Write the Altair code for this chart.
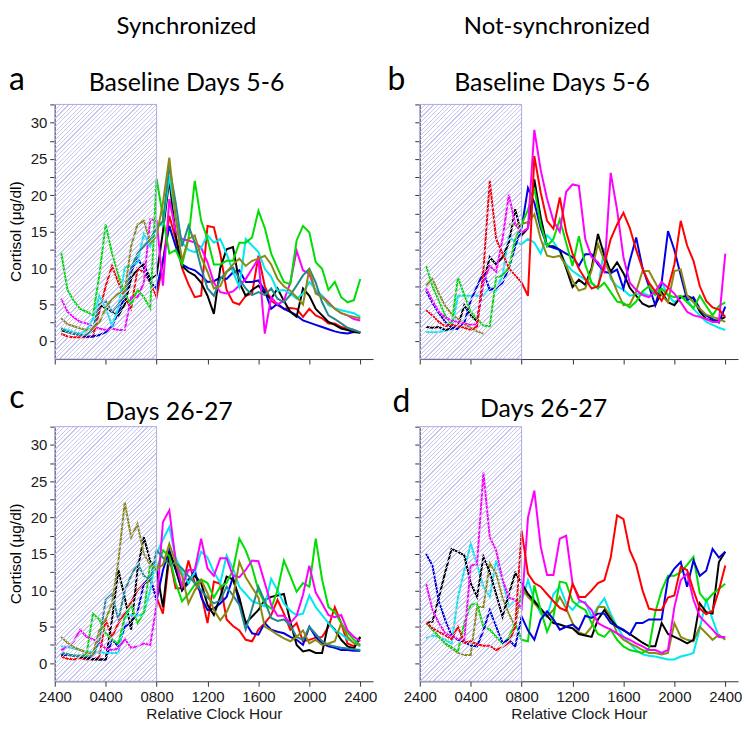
import altair as alt
import pandas as pd

# half-hourly sampling times (relative clock hour, 00:30 ... 24:00)
HOURS = [h / 2 for h in range(1, 49)]

# ---------------- panel a : Synchronized, Baseline Days 5-6 ----------------
A_RED = [1.0, 0.6, 0.5, 0.5, 0.5, 0.6, 4.0, 7.5, 10.3, 8.0, 6.0, 4.4,
         9.9, 9.5, 8.0, 6.0, 10.8, 17.2, 14.0, 10.0, 7.8, 6.0, 6.2, 15.8,
         15.6, 12.0, 7.0, 5.3, 5.0, 6.2, 6.5, 11.7, 7.5, 5.5, 4.9, 4.4,
         4.5, 4.4, 3.3, 4.4, 3.5, 3.1, 2.4, 2.4, 1.9, 1.7, 1.5, 1.1]
A_GREEN = [12.2, 7.0, 5.5, 4.4, 4.0, 3.5, 9.0, 16.0, 12.0, 9.0, 6.5, 5.0,
           7.0, 6.0, 4.5, 22.3, 17.0, 12.0, 12.5, 10.5, 14.0, 22.0, 16.5, 14.0,
           10.5, 10.5, 11.0, 11.0, 13.5, 13.5, 14.2, 17.9, 15.5, 12.0, 10.0, 8.1,
           7.8, 13.8, 15.8, 14.9, 10.8, 9.9, 7.0, 8.1, 6.0, 5.3, 5.6, 8.5]
A_BLUE = [1.5, 1.3, 1.0, 0.8, 0.6, 0.6, 0.8, 1.2, 2.0, 4.0, 6.0, 9.5,
          11.3, 10.0, 8.1, 7.2, 11.0, 15.8, 13.0, 10.5, 10.0, 9.7, 9.0, 8.1,
          8.2, 8.7, 8.5, 9.4, 9.7, 8.1, 8.1, 8.3, 6.9, 4.4, 5.1, 4.4,
          4.0, 3.5, 2.8, 2.5, 2.2, 1.9, 1.6, 1.3, 1.1, 1.0, 1.2, 1.2]
A_BLACK = [1.5, 1.2, 1.0, 0.8, 0.8, 1.5, 4.9, 4.5, 4.0, 3.5, 5.0, 8.5,
           10.0, 10.5, 8.5, 9.0, 15.0, 22.2, 14.5, 10.3, 9.5, 9.0, 8.0, 6.2,
           3.7, 10.0, 12.6, 12.9, 8.0, 6.2, 7.0, 7.6, 6.5, 5.8, 7.2, 5.5,
           4.0, 3.3, 7.2, 6.2, 4.4, 3.5, 2.6, 2.2, 1.7, 1.5, 1.2, 1.1]
A_CYAN = [1.7, 1.5, 1.2, 1.0, 1.5, 3.0, 6.2, 4.5, 2.1, 4.5, 10.1, 10.3,
          10.8, 14.7, 13.0, 15.8, 16.0, 22.7, 17.0, 13.5, 12.5, 12.2, 12.8, 14.5,
          13.5, 14.0, 12.0, 9.5, 7.4, 14.0, 13.1, 12.2, 9.9, 8.8, 6.9, 7.0,
          6.5, 5.8, 6.5, 8.1, 7.0, 6.2, 4.9, 4.5, 4.2, 4.0, 3.8, 3.3]
A_MAGENTA = [5.8, 4.0, 3.2, 2.6, 2.4, 2.0, 1.7, 1.5, 1.7, 1.5, 1.5, 6.0,
             6.0, 8.0, 16.7, 16.5, 7.6, 19.5, 15.0, 14.0, 13.8, 13.5, 12.8, 10.8,
             8.0, 6.7, 6.5, 6.8, 7.6, 8.5, 9.9, 11.3, 1.0, 6.0, 5.0, 5.5,
             8.0, 12.4, 9.7, 9.2, 6.7, 6.2, 5.3, 4.4, 3.8, 3.5, 3.0, 2.8]
A_OLIVE = [3.1, 2.3, 2.0, 1.7, 1.5, 1.7, 2.5, 4.5, 5.8, 6.5, 6.8, 13.0,
           16.0, 16.5, 13.5, 14.4, 19.0, 25.2, 17.0, 11.0, 14.0, 14.5, 11.5, 9.5,
           7.2, 7.5, 9.5, 10.5, 11.3, 10.3, 11.0, 11.3, 11.7, 10.5, 8.5, 7.5,
           6.9, 6.0, 5.0, 9.9, 6.5, 6.0, 5.2, 4.4, 3.8, 3.5, 3.3, 3.1]
A_TEAL = [1.7, 1.2, 1.0, 0.8, 0.8, 1.5, 5.0, 5.5, 4.0, 5.0, 6.2, 10.0,
          12.0, 13.0, 14.0, 15.5, 16.5, 24.0, 19.0, 13.0, 15.8, 13.5, 10.0, 7.2,
          6.2, 8.5, 9.5, 10.1, 8.5, 7.2, 6.3, 6.7, 6.3, 7.2, 5.8, 5.3,
          6.3, 7.6, 9.0, 9.9, 8.0, 5.3, 3.5, 3.0, 2.4, 1.8, 1.5, 1.2]

# ---------------- panel b : Not-synchronized, Baseline Days 5-6 ----------------
B_RED = [4.2, 3.5, 2.6, 2.0, 2.2, 2.0, 1.8, 1.5, 2.0, 9.7, 22.0, 14.0,
         12.0, 10.0, 9.0, 8.0, 6.2, 25.4, 20.4, 16.5, 15.4, 19.7, 15.0, 12.0,
         9.9, 8.5, 7.2, 7.5, 10.5, 14.0, 16.0, 17.6, 15.5, 12.5, 9.9, 8.0,
         6.8, 5.5, 7.2, 10.5, 16.5, 13.1, 11.0, 7.5, 5.5, 4.6, 4.3, 3.3]
B_MAGENTA = [7.2, 5.5, 4.0, 3.2, 2.8, 2.6, 2.4, 2.2, 2.3, 8.1, 10.3, 9.5,
             14.0, 20.1, 16.0, 14.9, 15.5, 29.0, 23.5, 19.5, 16.5, 15.0, 20.5, 21.5,
             21.3, 14.0, 11.5, 10.8, 9.5, 23.1, 18.0, 11.5, 8.0, 7.0, 6.3, 6.0,
             6.8, 8.1, 7.3, 6.5, 5.3, 4.0, 3.5, 3.3, 3.0, 2.6, 2.6, 12.0]
B_GREEN = [10.3, 7.5, 5.5, 3.5, 2.2, 8.7, 6.3, 4.0, 3.0, 2.1, 2.0, 8.7,
           9.0, 10.0, 14.0, 16.0, 18.0, 21.0, 16.0, 13.0, 14.0, 16.7, 13.5, 10.3,
           14.4, 10.5, 8.0, 7.2, 8.0, 6.7, 5.4, 5.2, 4.6, 5.4, 6.8, 7.5,
           6.3, 7.2, 6.3, 6.0, 6.2, 5.3, 4.5, 6.2, 4.8, 3.5, 4.8, 5.3]
B_BLUE = [6.9, 5.2, 3.8, 2.6, 1.8, 1.6, 2.5, 5.5, 7.5, 9.4, 7.0, 7.3,
          8.0, 10.0, 13.0, 15.5, 21.0, 19.0, 15.5, 13.1, 12.8, 12.5, 12.0, 11.5,
          10.3, 11.9, 11.9, 10.5, 9.5, 9.3, 9.8, 7.2, 11.0, 14.2, 10.0, 7.5,
          4.9, 8.0, 15.1, 12.5, 9.0, 5.6, 6.0, 4.4, 3.5, 3.0, 2.5, 4.7]
B_BLACK = [1.9, 1.8, 1.9, 1.5, 1.7, 2.0, 4.9, 3.5, 2.7, 8.0, 11.5, 10.5,
           11.5, 13.5, 18.1, 14.5, 15.5, 22.2, 17.0, 13.0, 13.0, 12.5, 10.0, 7.4,
           8.4, 7.7, 10.0, 14.7, 11.7, 9.5, 10.8, 9.3, 7.3, 6.2, 5.1, 4.7,
           4.9, 6.7, 5.3, 4.9, 6.0, 6.2, 5.8, 4.0, 3.0, 2.8, 2.8, 3.3]
B_CYAN = [1.2, 1.2, 1.2, 1.4, 1.6, 6.2, 6.2, 6.2, 6.2, 6.2, 7.3, 7.0,
          9.0, 14.4, 13.5, 13.3, 14.0, 13.5, 12.0, 14.5, 13.6, 12.3, 10.5, 9.6,
          9.0, 8.4, 7.9, 7.2, 12.8, 8.5, 7.5, 7.0, 6.2, 6.4, 6.6, 6.2,
          6.5, 8.1, 6.2, 5.3, 6.0, 5.7, 4.4, 3.5, 2.6, 2.2, 1.8, 1.5]
B_OLIVE = [7.6, 8.5, 6.5, 4.8, 3.7, 3.0, 2.3, 1.8, 1.3, 1.0, None, None,
           None, 16.0, 16.0, 16.1, 16.3, 17.4, 14.0, 11.7, 11.5, 11.7, 10.3, 8.3,
           6.9, 7.2, 9.7, 13.3, 11.0, 9.0, 6.8, 4.9, 5.0, 6.8, 9.6, 9.6,
           8.0, 6.3, 5.3, 9.6, 9.8, 6.2, 5.3, 4.4, 3.6, 3.3, 3.0, 2.6]

# ---------------- panel c : Synchronized, Days 26-27 ----------------
C_RED = [0.9, 0.6, 0.5, 0.7, 0.5, 0.5, 0.9, 5.9, 3.6, 5.5, 6.8, 8.4,
         10.0, 10.9, 11.4, 9.0, 6.8, 14.6, 10.3, 10.3, 14.1, 11.0, 9.6, 5.5,
         11.2, 10.9, 6.0, 5.1, 4.5, 3.2, 3.0, 4.6, 5.5, 6.6, 8.7, 6.8,
         4.6, 5.5, 3.0, 3.2, 3.5, 3.6, 5.0, 7.7, 5.5, 2.7, 2.3, 3.6]
C_GREEN = [1.4, 1.2, 1.0, 1.0, 1.2, 6.8, 6.0, 4.1, 3.2, 2.7, 6.4, 8.0,
           5.5, 6.9, 13.7, 12.8, 15.5, 14.7, 11.0, 8.5, 9.5, 10.8, 11.5, 11.0,
           9.0, 10.5, 11.0, 12.8, 17.1, 15.5, 13.2, 10.0, 8.2, 7.5, 10.0, 14.1,
           12.0, 9.8, 11.0, 10.5, 17.1, 11.5, 7.7, 7.0, 5.5, 4.2, 3.2, 2.5]
C_BLUE = [1.1, 1.1, 1.0, 0.9, 0.8, 0.6, 0.5, 0.5, 3.2, 2.3, 5.0, 5.5,
          7.0, 10.9, 11.8, 8.6, 12.8, 15.5, 12.8, 10.0, 11.0, 12.8, 9.1, 7.3,
          7.5, 8.2, 9.1, 11.8, 8.2, 5.5, 4.1, 3.9, 5.5, 4.6, 4.3, 4.1,
          3.6, 3.2, 2.5, 5.0, 3.6, 2.7, 2.3, 2.1, 1.8, 1.8, 1.7, 1.7]
C_BLACK = [1.4, 1.2, 1.0, 0.9, 0.7, 0.5, 0.5, 0.5, 6.0, 12.8, 9.0, 4.6,
           12.8, 17.3, 14.0, 12.8, 7.7, 15.3, 13.0, 10.0, 11.5, 12.0, 11.0, 8.0,
           6.6, 9.1, 11.9, 11.5, 9.0, 5.5, 6.4, 7.3, 8.7, 9.1, 9.3, 9.5,
           5.7, 2.5, 1.6, 1.8, 1.4, 1.4, 5.5, 4.6, 3.2, 2.3, 2.0, 3.6]
C_CYAN = [2.3, 2.2, 2.0, 1.8, 1.6, 1.5, 1.5, 1.4, 1.4, 1.4, 6.3, 6.6,
          6.5, 6.8, 10.0, 15.0, 17.0, 18.7, 14.5, 12.5, 11.0, 12.5, 15.3, 14.5,
          12.5, 11.0, 14.8, 13.0, 10.5, 9.5, 8.5, 8.2, 7.8, 11.6, 10.0, 8.2,
          7.2, 6.6, 6.8, 9.3, 7.7, 6.6, 5.5, 4.5, 4.0, 3.3, 2.8, 2.3]
C_MAGENTA = [1.8, 2.2, 3.0, 4.6, 3.6, 3.3, 2.8, 2.0, 1.8, 2.0, 3.3, 2.1,
             2.3, 2.7, 2.5, 8.0, 19.4, 21.0, 14.0, 10.5, 12.8, 12.8, 17.1, 13.0,
             12.0, 14.4, 14.4, 12.0, 11.8, 12.8, 14.1, 14.0, 11.0, 8.0, 6.5, 6.5,
             5.5, 6.5, 9.4, 13.4, 9.7, 8.2, 6.6, 6.3, 6.6, 4.5, 3.6, 3.0]
C_OLIVE = [3.6, 2.8, 2.2, 1.8, 1.4, 1.3, 4.5, 6.0, 8.2, 14.0, 22.1, 17.3,
           19.1, 15.0, 13.5, 13.0, 13.5, 16.4, 13.8, 12.0, 8.2, 10.0, 11.4, 9.6,
           7.3, 5.9, 7.0, 9.0, 13.9, 11.8, 10.4, 9.0, 5.0, 4.5, 3.9, 3.4,
           3.0, 3.6, 4.5, 2.7, 3.2, 2.5, 2.7, 3.0, 5.5, 3.6, 2.7, 2.5]
C_TEAL = [1.4, 1.2, 1.0, 1.0, 0.9, 1.0, 3.0, 8.7, 9.5, 5.9, 10.0, 12.0,
          13.7, 12.0, 11.5, 15.5, 14.5, 13.5, 13.8, 13.0, 12.0, 11.0, 10.0, 9.0,
          8.2, 8.6, 10.5, 9.3, 8.0, 4.6, 7.5, 10.5, 8.5, 6.2, 5.8, 6.0,
          5.2, 3.6, 3.2, 5.0, 4.0, 3.0, 2.5, 2.3, 2.1, 2.0, 1.9, 1.8]

# ---------------- panel d : Not-synchronized, Days 26-27 ----------------
D_RED = [5.6, 4.8, 4.3, 3.8, 3.3, 5.0, 2.8, 3.0, 2.6, 2.4, 2.4, 1.8,
         2.2, 2.8, 5.0, 18.2, 12.3, 11.0, 10.5, 9.5, 8.5, 7.6, 7.2, 10.9,
         9.1, 9.1, 10.0, 11.0, 11.4, 14.5, 20.3, 19.8, 15.5, 13.5, 10.0, 7.5,
         7.3, 7.3, 9.0, 9.3, 13.2, 12.8, 10.0, 7.5, 6.7, 7.2, 10.0, 13.4]
D_GREEN = [5.5, 4.6, 3.6, 2.7, 2.2, 1.6, 5.5, 8.0, 8.2, 5.0, 4.6, 3.6,
           2.7, 3.6, 5.5, 3.2, 3.0, 10.7, 7.3, 4.3, 6.4, 11.2, 11.0, 8.5,
           7.8, 7.3, 5.5, 4.0, 3.6, 4.6, 3.2, 2.3, 1.8, 1.6, 1.4, 2.0,
           7.0, 10.0, 12.0, 12.0, 12.5, 13.5, 14.6, 9.6, 8.5, 9.5, 10.2, 10.9]
D_BLUE = [15.0, 13.4, 8.5, 5.9, 3.8, 3.2, 2.9, 2.4, 2.3, 4.5, 7.3, 5.0,
          2.8, 3.2, 2.3, 6.4, 4.5, 3.2, 6.0, 7.1, 6.0, 4.6, 5.0, 5.3,
          4.6, 6.5, 6.2, 6.8, 6.8, 5.5, 5.0, 4.6, 3.9, 5.5, 5.5, 6.0,
          6.0, 6.0, 11.6, 13.0, 13.9, 10.5, 14.1, 12.0, 12.7, 15.7, 14.5, 15.3]
D_BLACK = [5.5, 5.7, 9.0, 12.5, 15.7, 15.3, 14.8, 11.0, 9.1, 14.6, 12.5, 9.5,
           6.4, 9.5, 12.4, 11.0, 9.5, 8.5, 7.5, 6.5, 5.5, 5.3, 5.0, 4.8,
           4.0, 3.8, 3.6, 6.0, 7.3, 6.0, 5.0, 4.5, 4.0, 3.4, 2.8, 2.3,
           2.3, 5.5, 4.0, 3.6, 3.2, 2.7, 3.2, 8.2, 7.0, 6.8, 13.9, 15.3]
D_CYAN = [3.4, 3.8, 3.6, 3.2, 2.7, 9.0, 12.8, 16.4, 13.6, 10.5, 9.1, 14.1,
          11.5, 7.8, 8.7, 8.5, 11.4, 8.7, 6.8, 6.4, 9.5, 10.5, 8.2, 7.3,
          8.4, 8.4, 6.4, 7.7, 8.9, 6.8, 5.0, 3.6, 2.7, 1.8, 1.2, 1.0,
          0.9, 0.7, 0.5, 0.5, 0.9, 1.1, 1.4, 4.8, 8.7, 6.0, 3.6, 3.4]
D_MAGENTA = [10.9, 7.3, 5.5, 4.1, 3.7, 3.3, 3.2, 13.4, 13.6, 26.2, 17.3, 15.5,
             11.5, 9.0, 8.7, 7.5, 20.0, 23.7, 16.0, 12.1, 12.1, 17.1, 17.5, 11.0,
             8.7, 8.2, 7.3, 5.5, 5.0, 4.6, 4.1, 3.6, 3.2, 2.7, 2.3, 1.8,
             1.8, 1.4, 1.8, 7.7, 11.4, 12.3, 8.7, 6.4, 5.5, 4.6, 3.6, 3.6]
D_OLIVE = [5.5, 4.6, 3.6, 2.7, 2.0, 1.4, 1.1, 1.1, 7.7, 7.7, 13.7, 12.3,
           9.0, 6.8, 5.0, 10.3, 9.1, 8.2, 7.3, 6.4, 7.3, 9.1, 7.5, 5.5,
           4.2, 3.9, 5.0, 7.7, 7.7, 6.4, 4.1, 3.2, 2.7, 2.3, 1.8, 1.4,
           1.4, 1.2, 1.4, 5.5, 3.6, 3.2, 3.0, 5.0, 4.1, 3.2, 3.9, 3.2]

COLOR_NAMES = ["red", "green", "blue", "black", "cyan", "magenta", "olive", "teal"]
COLOR_VALUES = ["#ff0000", "#00dd00", "#0000e0", "#000000", "#00e8f0",
                "#ff00ff", "#8a8a10", "#23898c"]

PANEL_SERIES = {
    "a": {"red": A_RED, "blue": A_BLUE, "black": A_BLACK, "magenta": A_MAGENTA,
          "cyan": A_CYAN, "green": A_GREEN, "teal": A_TEAL, "olive": A_OLIVE},
    "b": {"cyan": B_CYAN, "black": B_BLACK, "blue": B_BLUE, "olive": B_OLIVE,
          "green": B_GREEN, "magenta": B_MAGENTA, "red": B_RED},
    "c": {"red": C_RED, "blue": C_BLUE, "black": C_BLACK, "cyan": C_CYAN,
          "green": C_GREEN, "magenta": C_MAGENTA, "teal": C_TEAL, "olive": C_OLIVE},
    "d": {"cyan": D_CYAN, "olive": D_OLIVE, "black": D_BLACK, "green": D_GREEN,
          "blue": D_BLUE, "magenta": D_MAGENTA, "red": D_RED},
}

PANEL_LETTERS = ["a", "b", "c", "d"]
PANEL_TITLES = ["Baseline Days 5-6", "Baseline Days 5-6", "Days 26-27", "Days 26-27"]
COLUMN_HEADINGS = ["Synchronized", "Not-synchronized"]
X_TITLE = "Relative Clock Hour"
Y_TITLE = "Cortisol (\u03bcg/dl)"
X_TICKS = [0, 4, 8, 12, 16, 20, 24]
Y_TICKS = [0, 2.5, 5, 7.5, 10, 12.5, 15, 17.5, 20, 22.5, 25, 27.5, 30, 32.5]
X_DOMAIN = [0, 25]
Y_DOMAIN = [-2.5, 32.5]
NIGHT_START, NIGHT_END = 0, 8   # lights-off interval 2400-0800

W, H = 320, 256
TITLE_FONT = "Lato"
AXIS_FONT = "Liberation Sans"


def to_long(series):
    rows = []
    for name, vals in series.items():
        seg, gap = 0, False
        for t, v in zip(HOURS, vals):
            if v is None:
                gap = True
                continue
            if gap:
                seg += 1
                gap = False
            rows.append({"series": name, "seg": f"{name}-{seg}", "hour": t, "cortisol": v})
    return pd.DataFrame(rows)


# diagonal hatch for the lights-off box, built as a striped linear gradient
def hatch_fill():
    rw = W * (NIGHT_END - NIGHT_START) / (X_DOMAIN[1] - X_DOMAIN[0])
    rh = H
    k = (rw + rh) / (rw ** 2 + rh ** 2)
    span = rw + rh
    period, thick = 4.4, 1.2
    col, clear = "#c6c6f0", "rgba(198,198,240,0)"
    stops = [alt.GradientStop(offset=0, color=clear)]
    i = 0
    while True:
        s = (i * period + 0.6) / span
        e = (i * period + 0.6 + thick) / span
        if e >= 1:
            break
        stops += [alt.GradientStop(offset=s, color=clear), alt.GradientStop(offset=s, color=col),
                  alt.GradientStop(offset=e, color=col), alt.GradientStop(offset=e, color=clear)]
        i += 1
    stops.append(alt.GradientStop(offset=1, color=clear))
    return alt.Gradient(gradient="linear", stops=stops, x1=0, y1=0, x2=k * rw, y2=k * rh)


HATCH = hatch_fill()
NIGHT_DF = pd.DataFrame({"start": [NIGHT_START], "end": [NIGHT_END],
                         "lo": [Y_DOMAIN[0]], "hi": [Y_DOMAIN[1]]})
ONE = pd.DataFrame({"k": [0]})

X_LABEL_EXPR = ("datum.value == 0 || datum.value == 24 ? '2400' : "
                "(datum.value < 10 ? '0' + datum.value + '00' : datum.value + '00')")
Y_LABEL_EXPR = "datum.value % 5 == 0 ? datum.label : ''"


def text_layer(text, x, y, size, font=TITLE_FONT, angle=0, baseline="alphabetic"):
    kw = dict(font=font, fontSize=size, align="center", baseline=baseline, color="#000000")
    if angle:
        kw["angle"] = angle
    return alt.Chart(ONE).mark_text(**kw).encode(
        x=alt.value(x), y=alt.value(y), text=alt.value(text))


def axis_common():
    return dict(grid=False, tickSize=5, tickColor="#333333", domainColor="#333333",
                tickWidth=1, domainWidth=1, labelFont=AXIS_FONT, labelFontSize=15,
                labelColor="#1a1a1a", labelOverlap=False, labelFlush=False,
                titleFont=AXIS_FONT, titleFontSize=15.5, titleFontWeight="normal",
                titleColor="#1a1a1a")


def make_panel(idx, left, bottom, letter_xy, title_xy, heading_xy=None, anchor=False):
    key = PANEL_LETTERS[idx]
    df = to_long(PANEL_SERIES[key])
    xs = alt.Scale(domain=X_DOMAIN, nice=False, zero=False)
    ys = alt.Scale(domain=Y_DOMAIN, nice=False, zero=False)
    x_axis = alt.Axis(values=X_TICKS, labelExpr=X_LABEL_EXPR, labels=bottom,
                      labelPadding=3, titlePadding=2, **axis_common())
    y_axis = alt.Axis(values=Y_TICKS, labelExpr=Y_LABEL_EXPR, labels=left,
                      labelPadding=3, **axis_common())
    xt = X_TITLE if bottom else ""

    lines = alt.Chart(df).mark_line(strokeWidth=2).encode(
        x=alt.X("hour:Q", scale=xs, axis=x_axis, title=xt),
        y=alt.Y("cortisol:Q", scale=ys, axis=y_axis, title=""),
        color=alt.Color("series:N", scale=alt.Scale(domain=COLOR_NAMES, range=COLOR_VALUES),
                        legend=None),
        detail="seg:N",
    )
    hatch = alt.Chart(NIGHT_DF).mark_rect(fill=HATCH, stroke="#aaaae4", strokeWidth=1).encode(
        x=alt.X("start:Q", scale=xs, axis=x_axis, title=xt), x2="end:Q",
        y=alt.Y("lo:Q", scale=ys, axis=y_axis, title=""), y2="hi:Q",
    )
    layers = [lines, hatch,
              text_layer(PANEL_LETTERS[idx], letter_xy[0], letter_xy[1], 32),
              text_layer(PANEL_TITLES[idx], title_xy[0], title_xy[1], 25)]
    if heading_xy is not None:
        layers.append(text_layer(COLUMN_HEADINGS[idx % 2], heading_xy[0], heading_xy[1], 24))
    if left:
        layers.append(text_layer(Y_TITLE, -39, H / 2, 15.5, font=AXIS_FONT, angle=270,
                                 baseline="middle"))
    if anchor:
        layers.append(alt.Chart(ONE).mark_rect(opacity=0).encode(
            x=alt.value(-47), x2=alt.value(0), y=alt.value(-95), y2=alt.value(0)))
    return alt.layer(*layers).properties(width=W, height=H)


pa = make_panel(0, True, False, (-38, -15), (132.5, -14), (132.5, -71), anchor=True)
pb = make_panel(1, False, False, (-23.5, -15), (133, -14), (138, -71))
pc = make_panel(2, True, True, (-38, -19), (115, -7))
pd_ = make_panel(3, False, True, (-18.5, -15), (124.5, -10))

chart = alt.concat(pa, pb, pc, pd_, columns=2, spacing={"row": 68, "column": 47},
                   bounds="flush").properties(padding=0).configure_view(strokeWidth=0)

chart.save("out.html", embed_options={"renderer": "svg", "actions": False})
